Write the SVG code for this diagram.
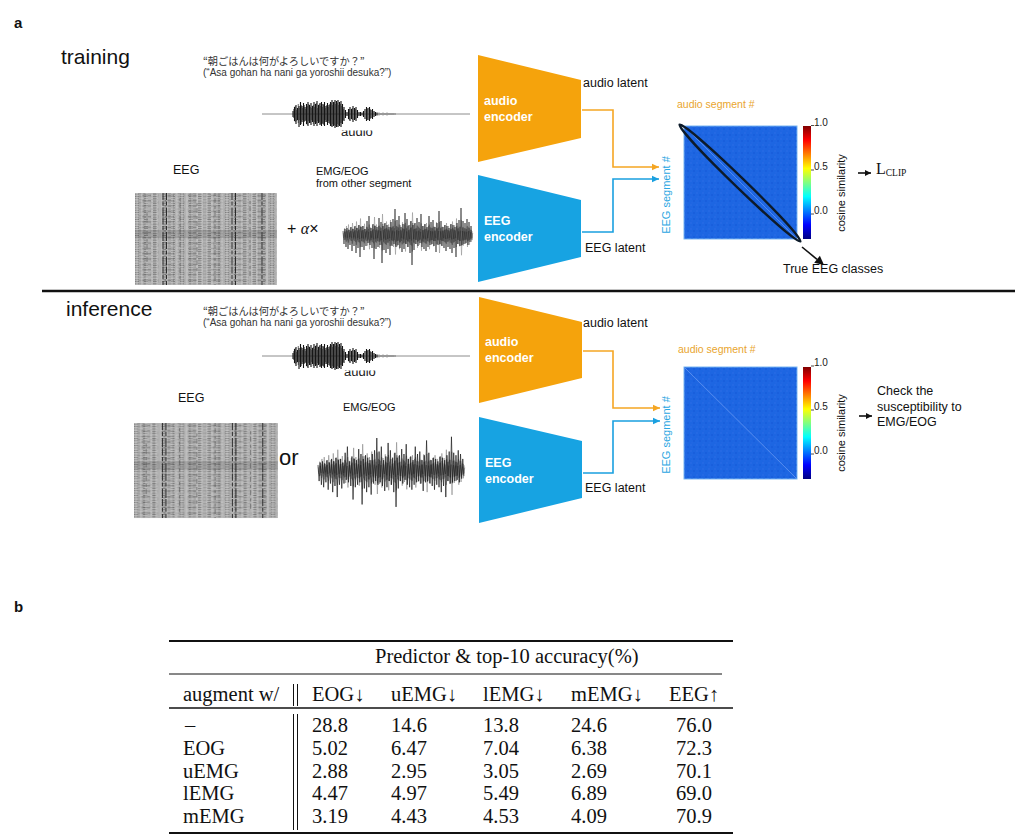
<svg xmlns="http://www.w3.org/2000/svg" width="1024" height="838" viewBox="0 0 1024 838">
<style>
.s{font-family:"Liberation Sans",Arial,sans-serif}
.tb{font-family:"Liberation Serif","Times New Roman","DejaVu Serif",serif;font-size:20.5px;fill:#111}
.jp{font-family:"Noto Sans CJK JP","Noto Sans CJK SC",sans-serif;font-size:10.2px;fill:#333}
.rom{font-family:"Liberation Sans",Arial,sans-serif;font-size:10px;fill:#333}
.enc{font-family:"Liberation Sans",Arial,sans-serif;font-size:12.5px;font-weight:bold;fill:#fff}
.lbl{font-family:"Liberation Sans",Arial,sans-serif;font-size:12.5px;fill:#111}
.sm{font-family:"Liberation Sans",Arial,sans-serif;font-size:11px;fill:#111}
.big{font-family:"Liberation Sans",Arial,sans-serif;font-size:21px;fill:#111}
.sega{font-family:"Liberation Sans",Arial,sans-serif;font-size:10.5px;fill:#e9a52e}
.sege{font-family:"Liberation Sans",Arial,sans-serif;font-size:11px;fill:#2ba6e2}
.tk{font-family:"Liberation Sans",Arial,sans-serif;font-size:10px;fill:#222}
.org{fill:#f5a30c}
.blu{fill:#17a3e2}
.hm{fill:#1d66e2;stroke:#7ab6f2;stroke-width:1}
.hn{fill:url(#noise)}
.cb{fill:url(#jet)}
.rule{stroke:#111;fill:none}
.co{stroke:#f5a623;stroke-width:1.6;fill:none}
.cbl{stroke:#1aa0e0;stroke-width:1.6;fill:none}
.ck{stroke:#111;stroke-width:1.6;fill:none}
.tickl{stroke:#222;stroke-width:.8}
</style>
<defs>
<linearGradient id="jet" x1="0" y1="0" x2="0" y2="1">
<stop offset="0" stop-color="#800000"/>
<stop offset=".125" stop-color="#ff0000"/>
<stop offset=".375" stop-color="#ffff00"/>
<stop offset=".5" stop-color="#80ff80"/>
<stop offset=".625" stop-color="#00ffff"/>
<stop offset=".875" stop-color="#0000ff"/>
<stop offset="1" stop-color="#000080"/>
</linearGradient>
<pattern id="noise" width="6" height="6" patternUnits="userSpaceOnUse">
<rect x="0" y="0" width="2" height="2" fill="#2a6ce6"/>
<rect x="3" y="2" width="2" height="2" fill="#1558d8"/>
<rect x="1" y="4" width="2" height="1.5" fill="#2568e4"/>
</pattern>
<pattern id="eA" width="9" height="2.3" patternUnits="userSpaceOnUse"><path d="M0 1.15h4" stroke="#6e6e6e" stroke-width=".7"/></pattern>
<pattern id="eB" width="13" height="3.1" patternUnits="userSpaceOnUse"><path d="M3 .6h7" stroke="#888" stroke-width=".6"/></pattern>
<pattern id="eC" width="5" height="1.7" patternUnits="userSpaceOnUse"><path d="M1 .8h2" stroke="#e2e2e2" stroke-width=".5"/></pattern>
<pattern id="eD" width="23" height="5.3" patternUnits="userSpaceOnUse"><path d="M7 2.5h9" stroke="#444" stroke-width=".5"/></pattern>
<pattern id="eE" width="3.7" height="7.1" patternUnits="userSpaceOnUse"><path d="M1 1v3" stroke="#888" stroke-width=".5"/></pattern>
<g id="eegimg">
<rect width="142" height="92" fill="#b2b2b2"/>
<rect width="142" height="92" fill="url(#eA)"/>
<rect width="142" height="92" fill="url(#eB)"/>
<rect width="142" height="92" fill="url(#eE)"/>
<rect width="142" height="92" fill="url(#eD)"/>
<rect width="142" height="92" fill="url(#eC)"/>
<rect y="37" width="142" height="8" fill="#000" opacity=".12"/>
<path d="M28 0V92M31.5 0V92M97 0V92M100.5 0V92M127 0V92" stroke="#2a2a2a" stroke-width="1" stroke-dasharray="7 1.5 4 2 9 1"/>
<path d="M45 5V88M62 10V80M80 0V92M115 8V85M12 20V70" stroke="#555" stroke-width=".6" stroke-dasharray="3 2 5 3"/>
</g>
<path id="emgp" d="M0,-4L1,9 2,-6 3,12 4,-7 5,14 6,-5 7,10 8,-8 9,16 10,-6 11,11 12,-9 13,18 14,-7 15,13 16,-10 17,22 18,-8 19,12 20,-9 21,15 22,-6 23,11 24,-14 25,8 26,-19 27,10 28,-7 29,13 30,-11 31,24 32,-9 33,14 34,-8 35,12 36,-17 37,10 38,-13 39,28 40,-9 41,15 42,-12 43,18 44,-10 45,14 46,-8 47,20 48,-13 49,11 50,-16 51,9 52,-26 53,12 54,-15 55,10 56,-19 57,13 58,-8 59,17 60,-11 61,14 62,-22 63,9 64,-16 65,12 66,-10 67,18 68,-14 69,30 70,-10 71,15 72,-12 73,9 74,-17 75,11 76,-13 77,8 78,-21 79,12 80,-9 81,14 82,-11 83,16 84,-8 85,12 86,-19 87,10 88,-13 89,9 90,-15 91,11 92,-8 93,17 94,-12 95,10 96,-24 97,9 98,-14 99,11 100,-8 101,13 102,-10 103,16 104,-9 105,12 106,-7 107,14 108,-11 109,18 110,-10 111,13 112,-8 113,22 114,-12 115,9 116,-15 117,11 118,-27 119,10 120,-14 121,9 122,-12 123,8 124,-16 125,10 126,-13 127,7 128,-9 129,5" fill="none"/>
<g id="emg">
<use href="#emgp" stroke="#8a8a8a" stroke-width=".6" transform="translate(.5,0) scale(1,-.75)"/>
<use href="#emgp" stroke="#555" stroke-width=".5" transform="translate(.25,0) scale(1,.55)"/>
<use href="#emgp" stroke="#222" stroke-width=".5" transform="translate(.75,0) scale(1,-.4)"/>
<use href="#emgp" stroke="#1e1e1e" stroke-width=".6"/>
</g>
<g id="aud">
<path d="M0-3V3M1.5-7V7M3-9V10M4.5-6V6M6-8V13M7.5-12V11M9-8V8M10.5-11V12M12-7V7M13.5-10V10M15-12V12M16.5-9V9M18-11V11M19.5-8V8M21-12V12M22.5-10V10M24-13V12M25.5-9V9M27-11V11M28.5-12V12M30-10V10M31.5-12V12M33-8V8M34.5-11V11M36-9V9M37.5-12V12M39-14V13M40.5-12V12M42-14V14M43.5-13V13M45-14V13M46.5-12V12M48-13V13M49.5-10V10M51-7V7M52.5-4V4M54-2V2M55.5-5V5M57-7V7M58.5-5V5M60-8V8M61.5-6V6M63-7V7M64.5-4V4M66-2V2M67.5-2V2M69-1.5V1.5M70.5-3V3M72-5V5M73.5-7V7M75-6V6M76.5-7V7M78-4V4M79.5-5V5M81-3V3M82.5-2V2M84-1.5V1.5" stroke="#111" stroke-width="1.1"/>
<path d="M.75-5V4M2.25-8V8M3.75-4V7M5.25-10V9M6.75-6V6M8.25-9V10M9.75-6V6M11.25-9V8M12.75-5V6M14.25-8V11M15.75-10V7M17.25-7V9M18.75-6V6M20.25-9V10M21.75-7V8M23.25-11V9M24.75-6V7M26.25-10V8M27.75-8V10M29.25-7V9M30.75-9V11M32.25-6V6M33.75-9V8M35.25-7V7M36.75-10V10M38.25-11V12M39.75-9V10M41.25-12V11M42.75-10V12M44.25-11V10M45.75-9V11M47.25-10V9M48.75-8V9M50.25-5V6M56.25-5V6M59.25-6V6M62.25-5V5M74.25-5V6M77.25-5V5" stroke="#222" stroke-width=".7"/>
<path d="M86-1.5V1.5M88-1V1M90-1.5V1.5M92-1V1M94-1.5V1.5M96-1V1M98-1V1M100-1V1M102-.8V.8" stroke="#555" stroke-width=".8"/>
</g>
<clipPath id="clipA"><rect x="330" y="130.5" width="60" height="10"/></clipPath>
<clipPath id="clipB"><rect x="330" y="370.5" width="60" height="10"/></clipPath>
<marker id="mo" markerWidth="8" markerHeight="8" refX="7" refY="4" orient="auto" markerUnits="userSpaceOnUse"><path d="M0,.8L7,4 0,7.2z" fill="#f5a623"/></marker>
<marker id="mb" markerWidth="8" markerHeight="8" refX="7" refY="4" orient="auto" markerUnits="userSpaceOnUse"><path d="M0,.8L7,4 0,7.2z" fill="#1aa0e0"/></marker>
<marker id="mk" markerWidth="8" markerHeight="8" refX="6" refY="4" orient="auto" markerUnits="userSpaceOnUse"><path d="M0,1L6,4 0,7z" fill="#111"/></marker>
</defs>

<rect width="1024" height="838" fill="#fff"/>

<g id="panel-labels">
<text class="s" x="14" y="28" font-size="15" font-weight="bold" fill="#111">a</text>
<text class="s" x="14" y="612" font-size="15" font-weight="bold" fill="#111">b</text>
</g>

<!-- TRAINING -->
<g id="training-title"><text class="big" x="61" y="64">training</text></g>
<g id="sentence-train">
<text class="jp" x="203" y="65">“朝ごはんは何がよろしいですか？”</text>
<text class="rom" x="203" y="76">(“Asa gohan ha nani ga yoroshii desuka?”)</text>
</g>
<g id="audio-wave-train">
<path d="M262 114H470" stroke="#8c8c8c" stroke-width="1"/>
<use href="#aud" transform="translate(293,114)"/>
<text class="s" x="341" y="136" font-size="13" fill="#222" clip-path="url(#clipA)">audio</text>
</g>
<g id="eeg-train">
<text class="lbl" x="173" y="174" font-size="12">EEG</text>
<use href="#eegimg" transform="translate(135,193)"/>
</g>
<g id="plus-alpha">
<text x="287" y="234" font-family="Liberation Sans,sans-serif" font-size="16" fill="#111">+ <tspan font-family="Liberation Serif,serif" font-style="italic">α</tspan><tspan font-family="Liberation Sans,sans-serif">×</tspan></text>
</g>
<g id="emg-train">
<text class="sm" x="316" y="175">EMG/EOG</text>
<text class="sm" x="316" y="187">from other segment</text>
<use href="#emg" transform="translate(343,235)"/>
</g>
<g id="audio-encoder-train">
<polygon class="org" points="478,55 581,80 581,138 478,162"/>
<text class="enc" x="484" y="105">audio</text>
<text class="enc" x="484" y="121">encoder</text>
</g>
<g id="eeg-encoder-train">
<polygon class="blu" points="478,175 581,200 581,257 478,282"/>
<text class="enc" x="484" y="225">EEG</text>
<text class="enc" x="484" y="241">encoder</text>
</g>
<g id="latents-train">
<text class="lbl" x="583" y="87">audio latent</text>
<text class="lbl" x="585" y="252">EEG latent</text>
</g>
<g id="heatmap-train">
<text class="sega" x="677" y="108">audio segment #</text>
<text class="sege" transform="translate(670,195) rotate(-90)" text-anchor="middle">EEG segment #</text>
<rect class="hm" x="684" y="126" width="113" height="113"/>
<rect class="hn" x="684.5" y="126.5" width="112" height="112" opacity=".5"/>
<path d="M684 126L797 239" stroke="#5d92f0" stroke-width=".8"/>
<ellipse cx="740" cy="183" rx="84" ry="5" transform="rotate(44 740 183)" fill="none" stroke="#0d1b2a" stroke-width="2.3"/>
<rect class="cb" x="803" y="126" width="8" height="113"/>
<path class="tickl" d="M811 125.5h3M811 170h3M811 214h3"/>
<text class="tk" x="814" y="125.5">1.0</text>
<text class="tk" x="814" y="170">0.5</text>
<text class="tk" x="814" y="214">0.0</text>
<text class="sm" transform="translate(845,193) rotate(-90)" text-anchor="middle">cosine similarity</text>
</g>
<g id="lclip">
<text x="876" y="174" font-family="Liberation Serif,serif" font-size="16" fill="#111">L<tspan font-size="9.5" dy="2">CLIP</tspan></text>
</g>
<g id="true-classes">
<text class="lbl" x="783" y="273">True EEG classes</text>
</g>

<line x1="42" y1="291" x2="1015" y2="291" stroke="#111" stroke-width="2.5"/>

<!-- INFERENCE -->
<g id="inference-title"><text class="big" x="66" y="316">inference</text></g>
<g id="sentence-inf">
<text class="jp" x="203" y="315">“朝ごはんは何がよろしいですか？”</text>
<text class="rom" x="203" y="326">(“Asa gohan ha nani ga yoroshii desuka?”)</text>
</g>
<g id="audio-wave-inf">
<path d="M262 356H470" stroke="#8c8c8c" stroke-width="1"/>
<use href="#aud" transform="translate(293,356)"/>
<text class="s" x="344" y="376" font-size="13" fill="#222" clip-path="url(#clipB)">audio</text>
</g>
<g id="eeg-inf">
<text class="lbl" x="178" y="402" font-size="12">EEG</text>
<use href="#eegimg" transform="translate(134,423) scale(1.014,1.033)"/>
</g>
<g id="or-label"><text class="s" x="279" y="465" font-size="22" fill="#111">or</text></g>
<g id="emg-inf">
<text class="sm" x="343" y="411">EMG/EOG</text>
<use href="#emg" transform="translate(318,470) scale(1.131,1.23)"/>
</g>
<g id="audio-encoder-inf">
<polygon class="org" points="479,297 582,322 582,378 479,403"/>
<text class="enc" x="485" y="346">audio</text>
<text class="enc" x="485" y="362">encoder</text>
</g>
<g id="eeg-encoder-inf">
<polygon class="blu" points="479,417 582,441 582,498 479,523"/>
<text class="enc" x="485" y="467">EEG</text>
<text class="enc" x="485" y="483">encoder</text>
</g>
<g id="latents-inf">
<text class="lbl" x="583" y="327">audio latent</text>
<text class="lbl" x="585" y="492">EEG latent</text>
</g>
<g id="heatmap-inf">
<text class="sega" x="678" y="353">audio segment #</text>
<text class="sege" transform="translate(670,435) rotate(-90)" text-anchor="middle">EEG segment #</text>
<rect class="hm" x="684" y="367" width="113" height="112"/>
<rect class="hn" x="684.5" y="367.5" width="112" height="111" opacity=".5"/>
<path d="M685 368L796 478" stroke="#5d92f0" stroke-width=".9"/>
<rect class="cb" x="803" y="367" width="8" height="112"/>
<path class="tickl" d="M811 366h3M811 410h3M811 454h3"/>
<text class="tk" x="814" y="366">1.0</text>
<text class="tk" x="814" y="410">0.5</text>
<text class="tk" x="814" y="454">0.0</text>
<text class="sm" transform="translate(845,433) rotate(-90)" text-anchor="middle">cosine similarity</text>
</g>
<g id="check-text">
<text class="lbl" x="877" y="395">Check the</text>
<text class="lbl" x="877" y="411">susceptibility to</text>
<text class="lbl" x="877" y="426">EMG/EOG</text>
</g>

<g id="connectors">
<path class="co" d="M582 110H613V167H659" marker-end="url(#mo)"/>
<path class="cbl" d="M582 232H613V179H659" marker-end="url(#mb)"/>
<path class="co" d="M583 351H613V408H660" marker-end="url(#mo)"/>
<path class="cbl" d="M583 473H613V421H660" marker-end="url(#mb)"/>
<path class="ck" d="M858 173H871" marker-end="url(#mk)"/>
<path class="ck" d="M859 416H872" marker-end="url(#mk)"/>
<path class="ck" d="M802 247L817 259.3" stroke-width="2"/>
<polygon points="824,265 814.2,262.8 819.9,255.8" fill="#111"/>
</g>

<!-- TABLE -->
<g id="table">
<path class="rule" d="M169 641H733" stroke-width="2"/>
<text class="tb" x="375" y="663">Predictor &amp; top-10 accuracy(%)</text>
<path class="rule" d="M169 674H722" stroke-width="1"/>
<text class="tb" x="183" y="701">augment w/</text>
<text class="tb" x="312" y="701">EOG↓</text>
<text class="tb" x="391" y="701">uEMG↓</text>
<text class="tb" x="483" y="701">lEMG↓</text>
<text class="tb" x="571" y="701">mEMG↓</text>
<text class="tb" x="669" y="701">EEG↑</text>
<path class="rule" d="M293.5 684V706M297.5 684V706M293.5 714V830M297.5 714V830" stroke-width="1"/>
<path class="rule" d="M169 708H733" stroke-width="1.3"/>
<text class="tb" x="185" y="732">–</text>
<text class="tb" x="312" y="732">28.8</text><text class="tb" x="391" y="732">14.6</text><text class="tb" x="483" y="732">13.8</text><text class="tb" x="571" y="732">24.6</text><text class="tb" x="676" y="732">76.0</text>
<text class="tb" x="183" y="755">EOG</text>
<text class="tb" x="312" y="755">5.02</text><text class="tb" x="391" y="755">6.47</text><text class="tb" x="483" y="755">7.04</text><text class="tb" x="571" y="755">6.38</text><text class="tb" x="676" y="755">72.3</text>
<text class="tb" x="183" y="778">uEMG</text>
<text class="tb" x="312" y="778">2.88</text><text class="tb" x="391" y="778">2.95</text><text class="tb" x="483" y="778">3.05</text><text class="tb" x="571" y="778">2.69</text><text class="tb" x="676" y="778">70.1</text>
<text class="tb" x="183" y="800">lEMG</text>
<text class="tb" x="312" y="800">4.47</text><text class="tb" x="391" y="800">4.97</text><text class="tb" x="483" y="800">5.49</text><text class="tb" x="571" y="800">6.89</text><text class="tb" x="676" y="800">69.0</text>
<text class="tb" x="183" y="823">mEMG</text>
<text class="tb" x="312" y="823">3.19</text><text class="tb" x="391" y="823">4.43</text><text class="tb" x="483" y="823">4.53</text><text class="tb" x="571" y="823">4.09</text><text class="tb" x="676" y="823">70.9</text>
<path class="rule" d="M169 833H733" stroke-width="2"/>
</g>
</svg>
